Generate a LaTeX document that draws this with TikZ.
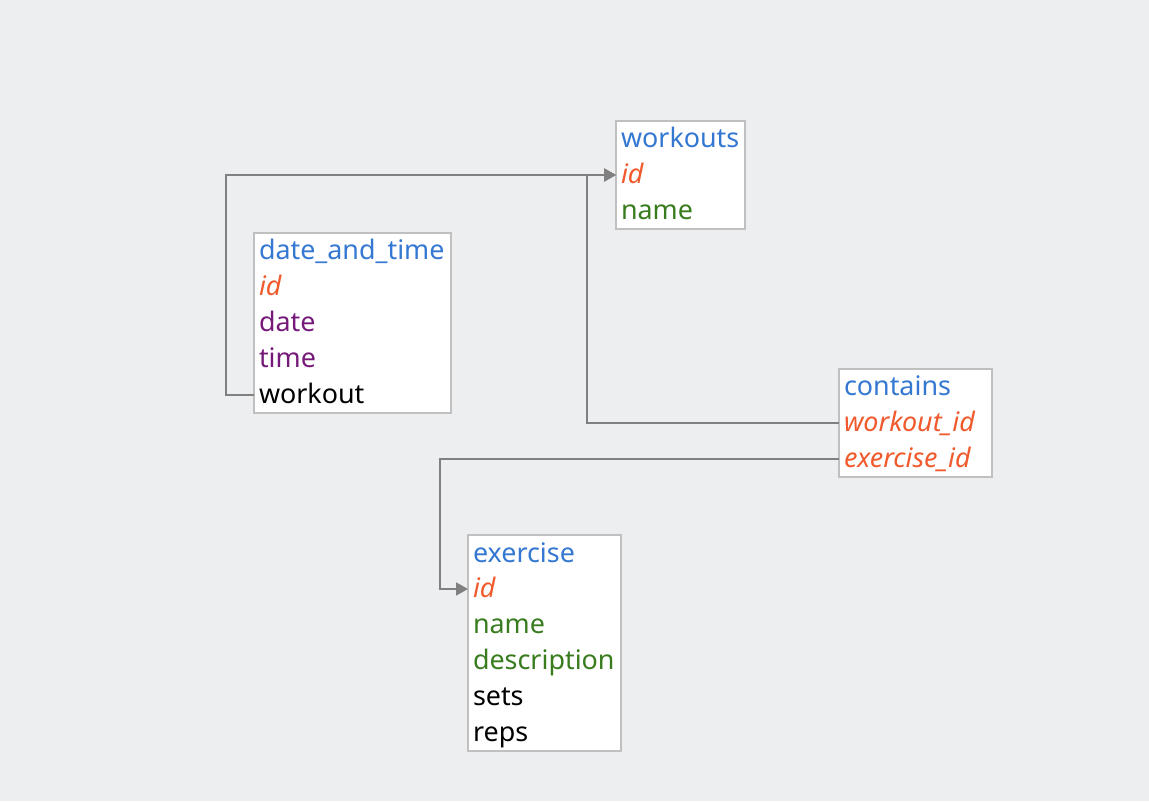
\documentclass[tikz,border=0pt]{standalone}
\usepackage{fontspec}
\setmainfont{Noto Sans}
\usetikzlibrary{positioning,fit,arrows.meta,backgrounds}

\definecolor{bgcol}{RGB}{237,238,240}
\definecolor{boxcol}{RGB}{192,192,192}
\definecolor{linecol}{RGB}{128,128,128}
\definecolor{tblue}{RGB}{52,120,210}
\definecolor{tred}{RGB}{240,90,45}
\definecolor{tgreen}{RGB}{56,124,30}
\definecolor{tpurple}{RGB}{118,26,122}

\tikzset{
  row/.style={inner xsep=0.1cm, inner ysep=0pt, outer sep=0pt, minimum height=0.72cm,
    text height=0.46cm, text depth=0.1cm, font=\fontsize{15.3}{17}\selectfont,
    align=left, anchor=north west},
  tbl/.style={draw=boxcol, fill=white, line width=1pt, inner sep=0pt},
  link/.style={draw=linecol, line width=1.1pt},
  fk/.style={link, -{Triangle[length=0.24cm, width=0.26cm]}},
  title/.style={text=tblue},
  key/.style={text=tred, font=\fontsize{15.3}{17}\selectfont\itshape},
  attr/.style={text=tgreen},
  other/.style={text=tpurple}
}

\begin{document}
\begin{tikzpicture}[x=0.02cm, y=-0.02cm]
\useasboundingbox (0,0) rectangle (1149,801);

\def\wwk{2.38cm}
\def\wdt{3.74cm}
\def\wct{2.86cm}
\def\wex{2.86cm}

% workouts
\node[row, title, text width=\wwk] (wk-title) at (616,121) {workouts};
\node[row, key, text width=\wwk, below=0pt of wk-title] (wk-id) {id};
\node[row, attr, text width=\wwk, below=0pt of wk-id] (wk-name) {name};

% date_and_time
\node[row, title, text width=\wdt] (dt-title) at (254,233) {date\_and\_time};
\node[row, key, text width=\wdt, below=0pt of dt-title] (dt-id) {id};
\node[row, other, text width=\wdt, below=0pt of dt-id] (dt-date) {date};
\node[row, other, text width=\wdt, below=0pt of dt-date] (dt-time) {time};
\node[row, text width=\wdt, below=0pt of dt-time] (dt-workout) {workout};

% contains
\node[row, title, text width=\wct] (ct-title) at (839,369) {contains};
\node[row, key, text width=\wct, below=0pt of ct-title] (ct-wid) {workout\_id};
\node[row, key, text width=\wct, below=0pt of ct-wid] (ct-eid) {exercise\_id};

% exercise
\node[row, title, text width=\wex] (ex-title) at (468,535) {exercise};
\node[row, key, text width=\wex, below=0pt of ex-title] (ex-id) {id};
\node[row, attr, text width=\wex, below=0pt of ex-id] (ex-name) {name};
\node[row, attr, text width=\wex, below=0pt of ex-name] (ex-desc) {description};
\node[row, text width=\wex, below=0pt of ex-desc] (ex-sets) {sets};
\node[row, text width=\wex, below=0pt of ex-sets] (ex-reps) {reps};

\begin{scope}[on background layer]
\fill[bgcol] (0,0) rectangle (1149,801);
\node[tbl, fit=(wk-title)(wk-name)] (wk) {};
\node[tbl, fit=(dt-title)(dt-workout)] (dt) {};
\node[tbl, fit=(ct-title)(ct-eid)] (ct) {};
\node[tbl, fit=(ex-title)(ex-reps)] (ex) {};
\end{scope}

% references
\draw[fk] (dt-workout.west) -- ++(-28,0) |- (wk-id.west);
\draw[fk] (ct-wid.west) -| ([xshift=-0.58cm]wk-id.west) -- (wk-id.west);
\draw[fk] (ct-eid.west) -| ([xshift=-0.56cm]ex-id.west) -- (ex-id.west);

\end{tikzpicture}
\end{document}
